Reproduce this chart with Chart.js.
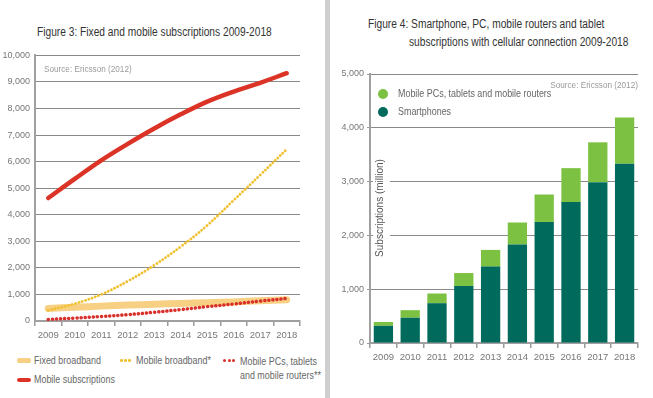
<!DOCTYPE html>
<html>
<head>
<meta charset="utf-8">
<script src="https://cdn.jsdelivr.net/npm/chart.js@4"></script>
<style>
  body { margin:0; background:#fff; font-family:'Liberation Sans', Arial, sans-serif; }
  #wrap { position:relative; width:653px; height:398px; overflow:hidden; }
  .abs { position:absolute; white-space:nowrap; }
  .title { font-size:12px; color:#333; transform:scaleX(0.85); transform-origin:left center; }
  .src { font-size:9.5px; color:#9a9a9a; transform:scaleX(0.86); }
  .lg { font-size:10.5px; color:#666; transform:scaleX(0.85); transform-origin:left center; }
  .sw { position:absolute; display:flex; gap:1.5px; align-items:center; }
  .dot { border-radius:50%; }
  #divider { position:absolute; left:325px; top:0; width:5px; height:398px; background:#cfcfcf; }
</style>
</head>
<body>
<div id="wrap">
  <canvas id="fig3" class="abs" style="left:0;top:45px" width="312" height="300"></canvas>
  <canvas id="fig4" class="abs" style="left:332px;top:60px" width="321" height="310"></canvas>
  <div id="divider"></div>

  <!-- Figure 3 texts -->
  <div class="abs title" style="left:37px;top:25px">Figure 3: Fixed and mobile subscriptions 2009-2018</div>
  <div class="abs src" style="left:44px;top:63px;transform-origin:left center">Source: Ericsson (2012)</div>

  <div class="sw" style="left:17px;top:358px;width:14px;height:5px;border-radius:2px;background:#f8d083"></div>
  <div class="abs lg" style="left:34px;top:354px">Fixed broadband</div>
  <div class="sw" style="left:120px;top:359px"><div class="dot" style="width:2.5px;height:2.5px;background:#f0c030"></div><div class="dot" style="width:2.5px;height:2.5px;background:#f0c030"></div><div class="dot" style="width:2.5px;height:2.5px;background:#f0c030"></div></div>
  <div class="abs lg" style="left:136px;top:354px">Mobile broadband*</div>
  <div class="sw" style="left:223px;top:359px"><div class="dot" style="width:3px;height:3px;background:#d8302a"></div><div class="dot" style="width:3px;height:3px;background:#d8302a"></div><div class="dot" style="width:3px;height:3px;background:#d8302a"></div></div>
  <div class="abs lg" style="left:240px;top:354px;line-height:14px">Mobile PCs, tablets<br>and mobile routers**</div>
  <div class="sw" style="left:17px;top:378px;width:14px;height:4px;border-radius:2px;background:#dc3327"></div>
  <div class="abs lg" style="left:34px;top:373px">Mobile subscriptions</div>

  <!-- Figure 4 texts -->
  <div class="abs title" style="left:368px;top:17px">Figure 4: Smartphone, PC, mobile routers and tablet</div>
  <div class="abs title" style="left:409px;top:35px">subscriptions with cellular connection 2009-2018</div>
  <div class="abs src" style="right:15px;top:79px;transform-origin:right center">Source: Ericsson (2012)</div>
  <div class="sw" style="left:378px;top:89px;width:10px;height:10px;border-radius:50%;background:#7cc142"></div>
  <div class="abs lg" style="left:398px;top:87px">Mobile PCs, tablets and mobile routers</div>
  <div class="sw" style="left:378px;top:107px;width:10px;height:10px;border-radius:50%;background:#006b5c"></div>
  <div class="abs lg" style="left:398px;top:105px">Smartphones</div>
</div>

<script>
// data (millions)
const years = ['2009','2010','2011','2012','2013','2014','2015','2016','2017','2018'];
const mobileSubs      = [4630, 5350, 6050, 6670, 7250, 7780, 8260, 8640, 8970, 9330];
const mobileBroadband = [400, 650, 1000, 1500, 2100, 2800, 3600, 4550, 5500, 6470];
const fixedBroadband  = [470, 520, 560, 600, 630, 660, 690, 720, 760, 800];
const mobilePCs       = [60, 110, 170, 240, 330, 430, 540, 640, 750, 850];

const smartphones  = [320, 470, 740, 1060, 1420, 1830, 2250, 2620, 2990, 3330];
const otherDevices = [70, 140, 180, 240, 310, 410, 510, 630, 740, 860];

const FONT = "'Liberation Sans', Arial, sans-serif";
const fmt = v => Number(v).toLocaleString('en-US');

Chart.defaults.font.family = FONT;
Chart.defaults.animation = false;

new Chart(document.getElementById('fig3'), {
  type:'line',
  data:{labels:years, datasets:[
    {data:mobileSubs, borderColor:'#dc3327', borderWidth:4.5, pointRadius:0, tension:0.4, order:0, borderCapStyle:'round'},
    {data:mobilePCs, borderColor:'#d8302a', borderWidth:3.5, borderDash:[0.1,4], borderCapStyle:'round', pointRadius:0, tension:0.4, order:1},
    {data:mobileBroadband, borderColor:'#f0c030', borderWidth:2.8, borderDash:[0.1,3.4], borderCapStyle:'round', pointRadius:0, tension:0.4, order:2},
    {data:fixedBroadband, borderColor:'#f8d083', borderWidth:7, pointRadius:0, tension:0.4, order:4, borderCapStyle:'round'}
  ]},
  options:{
    responsive:false,
    layout:{padding:{top:9, right:12, left:0, bottom:0}},
    plugins:{legend:{display:false}, tooltip:{enabled:false}},
    scales:{
      x:{
        offset:true,
        afterFit:s=>{ s.height = 24; },
        grid:{offset:true, drawOnChartArea:false, tickLength:5, color:'#999', lineWidth:1.5},
        border:{color:'#a0a0a0', width:2},
        ticks:{color:'#777', font:{size:9.5}, padding:4, maxRotation:0}
      },
      y:{
        min:0, max:10000,
        afterFit:s=>{ s.width = 35; },
        grid:{color:'#8a8a8a', lineWidth:1, borderDash:[1.5,3], drawTicks:false},
        border:{color:'#a0a0a0', width:2},
        ticks:{stepSize:1000, color:'#777', font:{size:9}, padding:5, callback:v=>fmt(v)}
      }
    }
  }
});

// y title sits inside the plot, with white behind it
const yTitle = {
  id:'yTitle',
  beforeDatasetsDraw(chart){
    const c = chart.ctx, a = chart.chartArea;
    c.save();
    c.fillStyle = '#fff';
    c.fillRect(a.left + 3, a.top + 80, 17, 115);
    c.translate(a.left + 10, a.top + 134);
    c.rotate(-Math.PI/2);
    c.fillStyle = '#555';
    c.font = `10px ${FONT}`;
    c.textAlign = 'center';
    c.textBaseline = 'middle';
    c.fillText('Subscriptions (million)', 0, 0);
    c.restore();
  }
};

new Chart(document.getElementById('fig4'), {
  type:'bar',
  data:{labels:years, datasets:[
    {label:'Smartphones', data:smartphones, backgroundColor:'#006b5c'},
    {label:'Mobile PCs, tablets and mobile routers', data:otherDevices, backgroundColor:'#7cc142'}
  ]},
  options:{
    responsive:false,
    layout:{padding:{top:14, right:15, left:0, bottom:0}},
    plugins:{legend:{display:false}, tooltip:{enabled:false}},
    datasets:{bar:{barPercentage:0.72, categoryPercentage:1}},
    scales:{
      x:{
        stacked:true,
        afterFit:s=>{ s.height = 27; },
        grid:{offset:true, drawOnChartArea:false, tickLength:5, color:'#999', lineWidth:1.5},
        border:{color:'#a0a0a0', width:2},
        ticks:{color:'#777', font:{size:9.5}, padding:4, maxRotation:0}
      },
      y:{
        stacked:true, min:0, max:5000,
        afterFit:s=>{ s.width = 38; },
        grid:{color:'#8a8a8a', lineWidth:1, borderDash:[2,3], tickLength:3, tickColor:'#999', tickBorderDash:[]},
        border:{color:'#a0a0a0', width:2},
        ticks:{stepSize:1000, color:'#777', font:{size:9}, padding:3, callback:v=>fmt(v)}
      }
    }
  },
  plugins:[yTitle]
});
</script>
</body>
</html>
